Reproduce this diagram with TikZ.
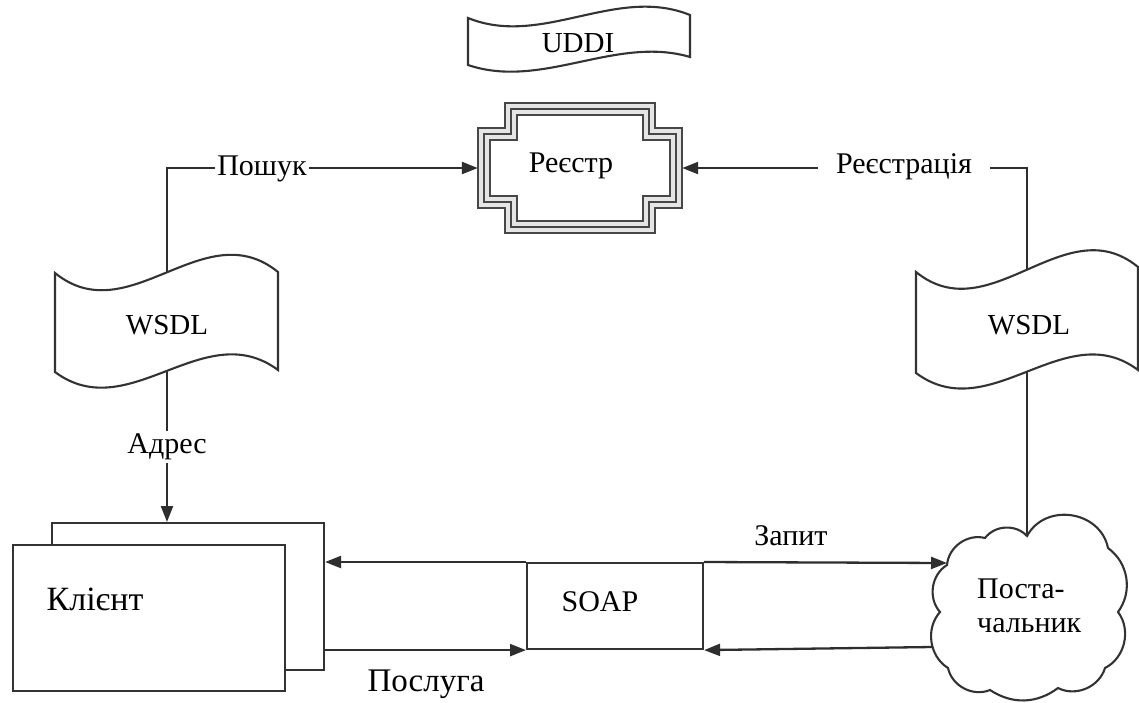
\documentclass[tikz,border=0pt]{standalone}
\usepackage{fontspec}
\setmainfont{Liberation Serif}
\usetikzlibrary{arrows.meta,calc}
\pgfdeclarelayer{bg}
\pgfsetlayers{bg,main}
\begin{document}
\begin{tikzpicture}[x=1pt,y=-1pt,
  ln/.style={draw=black!82, line width=2.3pt},
  arr/.style={ln, -{Triangle[length=16pt,width=12pt]}},
  shp/.style={draw=black!80, line width=2.1pt, fill=white},
  regline/.style={draw=black!72, line width=1.7pt},
  txt/.style={font=\fontsize{30}{34}\selectfont, inner sep=0pt, text=black},
  lbl/.style={txt, fill=white, inner ysep=3pt}]
\useasboundingbox (0,0) rectangle (1139,702);

% ---------- UDDI banner ----------
\draw[shp] (468,18) .. controls (542,48) and (616,-15) .. (690,15) -- (690,57)
  .. controls (616,35) and (542,90) .. (468,65) -- cycle;
\node[txt, font=\fontsize{29}{33}\selectfont] (uddi) at (578,43) {UDDI};

% ---------- Registry ----------
\node[minimum width=204pt, minimum height=130pt, inner sep=0pt] (reg) at (580,168) {};
\fill[black!10] (505,103) -- (655,103) -- (655,128) -- (682,128) -- (682,208) -- (655,208)
  -- (655,233) -- (505,233) -- (505,208) -- (478,208) -- (478,128) -- (505,128) -- cycle;
\fill[white] (517,115) -- (643,115) -- (643,140) -- (670,140) -- (670,196) -- (643,196)
  -- (643,221) -- (517,221) -- (517,196) -- (490,196) -- (490,140) -- (517,140) -- cycle;
\foreach \k in {0,6,12}{
  \draw[regline] (505+\k,103+\k) -- (655-\k,103+\k) -- (655-\k,128+\k) -- (682-\k,128+\k)
    -- (682-\k,208-\k) -- (655-\k,208-\k) -- (655-\k,233-\k) -- (505+\k,233-\k)
    -- (505+\k,208-\k) -- (478+\k,208-\k) -- (478+\k,128+\k) -- (505+\k,128+\k) -- cycle;
}
\node[txt] (regt) at (571,166) {Реєстр};

% ---------- WSDL left ----------
\draw[shp] (55,273) .. controls (129,333) and (204,212) .. (278,272) -- (278,370)
  .. controls (204,315) and (129,427) .. (55,372) -- cycle;
\node[txt, font=\fontsize{29}{33}\selectfont] (wsdlL) at (167,325) {WSDL};

% ---------- WSDL right ----------
\draw[shp] (916,272) .. controls (990,332) and (1065,207) .. (1138,267) -- (1138,370)
  .. controls (1065,315) and (990,428) .. (916,373) -- cycle;
\node[txt, font=\fontsize{29}{33}\selectfont] (wsdlR) at (1029,325) {WSDL};
\coordinate (rv) at (1027,325);

% ---------- Client ----------
\node[shp, minimum width=272pt, minimum height=147pt, anchor=north west] (cb) at (51,522) {};
\node[shp, minimum width=272pt, minimum height=146pt, anchor=north west] (client) at (12,544) {};
\node[txt, font=\fontsize{34}{38}\selectfont] (clientt) at (95,599) {Клієнт};

% ---------- SOAP ----------
\node[shp, minimum width=176pt, minimum height=86pt, anchor=north west] (soap) at (526,562) {};
\node[txt] (soapt) at (600,602) {SOAP};

% ---------- Provider cloud ----------
\draw[shp] (1027,536) to[bend left=70, looseness=1.2] (1108,548)
  to[bend left=45] (1118,612) to[bend left=50] (1105,668)
  to[bend left=50] (1058,688) to[bend left=35] (990,690)
  to[bend left=50] (948,668) to[bend left=50] (940,612)
  to[bend left=50] (947,565) to[bend left=50] (985,538)
  to[bend left=50] (1027,536) -- cycle;
\node[txt, align=left, anchor=west] (prov) at (977,606) {Поста-\\чальник};
\coordinate (ctop) at (1027,536);
\coordinate (cin) at (947,563);
\coordinate (cout) at (932,647);

% ---------- Labels ----------
\node[lbl, inner xsep=2pt] (poshuk) at (262,169) {Пошук};
\node[lbl, inner xsep=18pt] (reestr) at (904,167) {Реєстрація};
\node[lbl, inner xsep=3pt] (adres) at (167,447) {Адрес};
\node[txt] (zapyt) at (791,536) {Запит};
\node[txt, font=\fontsize{33}{37}\selectfont] (posluga) at (426,684) {Послуга};

% ---------- Connectors ----------
\begin{pgfonlayer}{bg}
  \draw[arr] (wsdlL) |- (reg.west);
  \draw[arr] (wsdlL) -- (wsdlL |- cb.north);
  \draw[arr] (ctop) -- (rv) |- (reg.east);
  \draw[arr] (soap.north west) -- (soap.north west -| cb.east);
  \draw[arr] (cb.east |- soap.south west) -- (soap.south west);
  \draw[arr] (soap.north east) -- (cin);
  \draw[arr] (cout) -- (soap.south east);
\end{pgfonlayer}
\end{tikzpicture}
\end{document}
